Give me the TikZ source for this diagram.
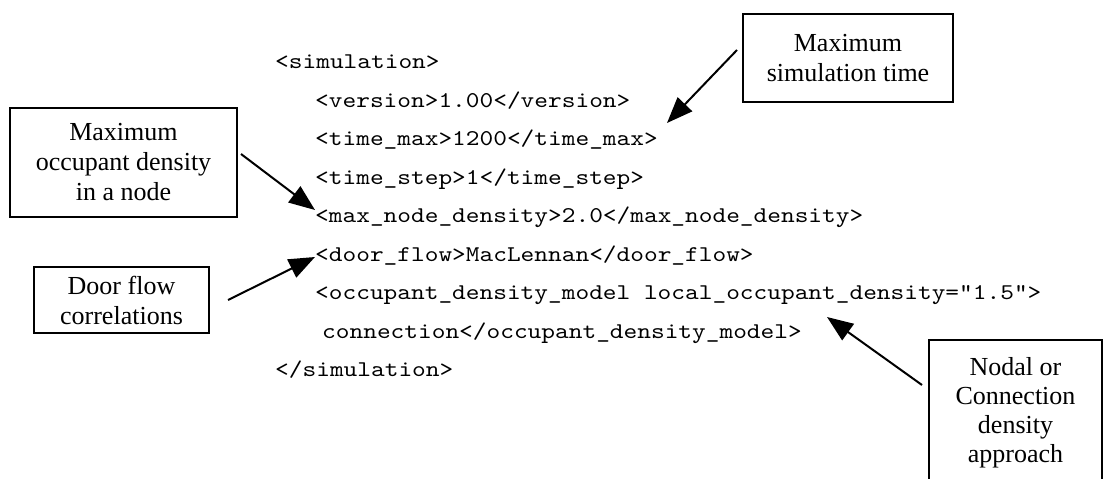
\documentclass[tikz,border=0pt]{standalone}
\usepackage{fontspec}
\setmainfont{Liberation Serif}
\newfontfamily\courlm{lmmono10-regular.otf}[FakeStretch=1.16]
\usetikzlibrary{arrows.meta}
\begin{document}
\begin{tikzpicture}[x=1bp,y=-1bp,
  lbl/.style={draw, line width=1.8bp, align=center, inner sep=0pt,
    font=\fontsize{26bp}{30bp}\selectfont},
  code/.style={anchor=base west, inner sep=0pt,
    font=\courlm\fontsize{22.5bp}{26bp}\selectfont},
  arr/.style={line width=2bp, -{Triangle[length=26bp,width=20bp]}}]
\useasboundingbox (0,0) rectangle (1104,479);

% label boxes
\node[lbl, minimum width=227bp, minimum height=109bp] (mx) at (123.5,162.5)
  {Maximum\\occupant density\\in a node};
\node[lbl, minimum width=210bp, minimum height=88bp] (st) at (848,58)
  {Maximum\\simulation time};
\node[lbl, minimum width=175bp, minimum height=66bp] (df) at (121.5,300)
  {Door flow\\correlations};
\node[align=center, inner sep=0pt, anchor=north,
  font=\fontsize{26bp}{29bp}\selectfont] (nd) at (1015.5,357)
  {Nodal or\\Connection\\density\\approach};
\draw[line width=1.8bp] (929,479) -- (929,340) -- (1102,340) -- (1102,479);

% code lines
\node[code] (l0) at (275,69) {<simulation>};
\node[code] (l1) at (315,107.5) {<version>1.00</version>};
\node[code] (l2) at (315,146) {<time\_max>1200</time\_max>};
\node[code] (l3) at (315,184.5) {<time\_step>1</time\_step>};
\node[code] (l4) at (315,223) {<max\_node\_density>2.0</max\_node\_density>};
\node[code] (l5) at (315,261.5) {<door\_flow>MacLennan</door\_flow>};
\node[code] (l6) at (315,300) {<occupant\_density\_model local\_occupant\_density="1.5">};
\node[code] (l7) at (322,338.5) {connection</occupant\_density\_model>};
\node[code] (l8) at (275,377) {</simulation>};

% arrow end points
\coordinate (s1) at (737,50);   \coordinate (t1) at (667,123);
\coordinate (s2) at (241,154);  \coordinate (t2) at (315,210);
\coordinate (s3) at (228,300);  \coordinate (t3) at (315,257);
\coordinate (s4) at (922,385);  \coordinate (t4) at (827,317);

\draw[arr] (s1) -- (t1);
\draw[arr] (s2) -- (t2);
\draw[arr] (s3) -- (t3);
\draw[arr] (s4) -- (t4);
\end{tikzpicture}
\end{document}
